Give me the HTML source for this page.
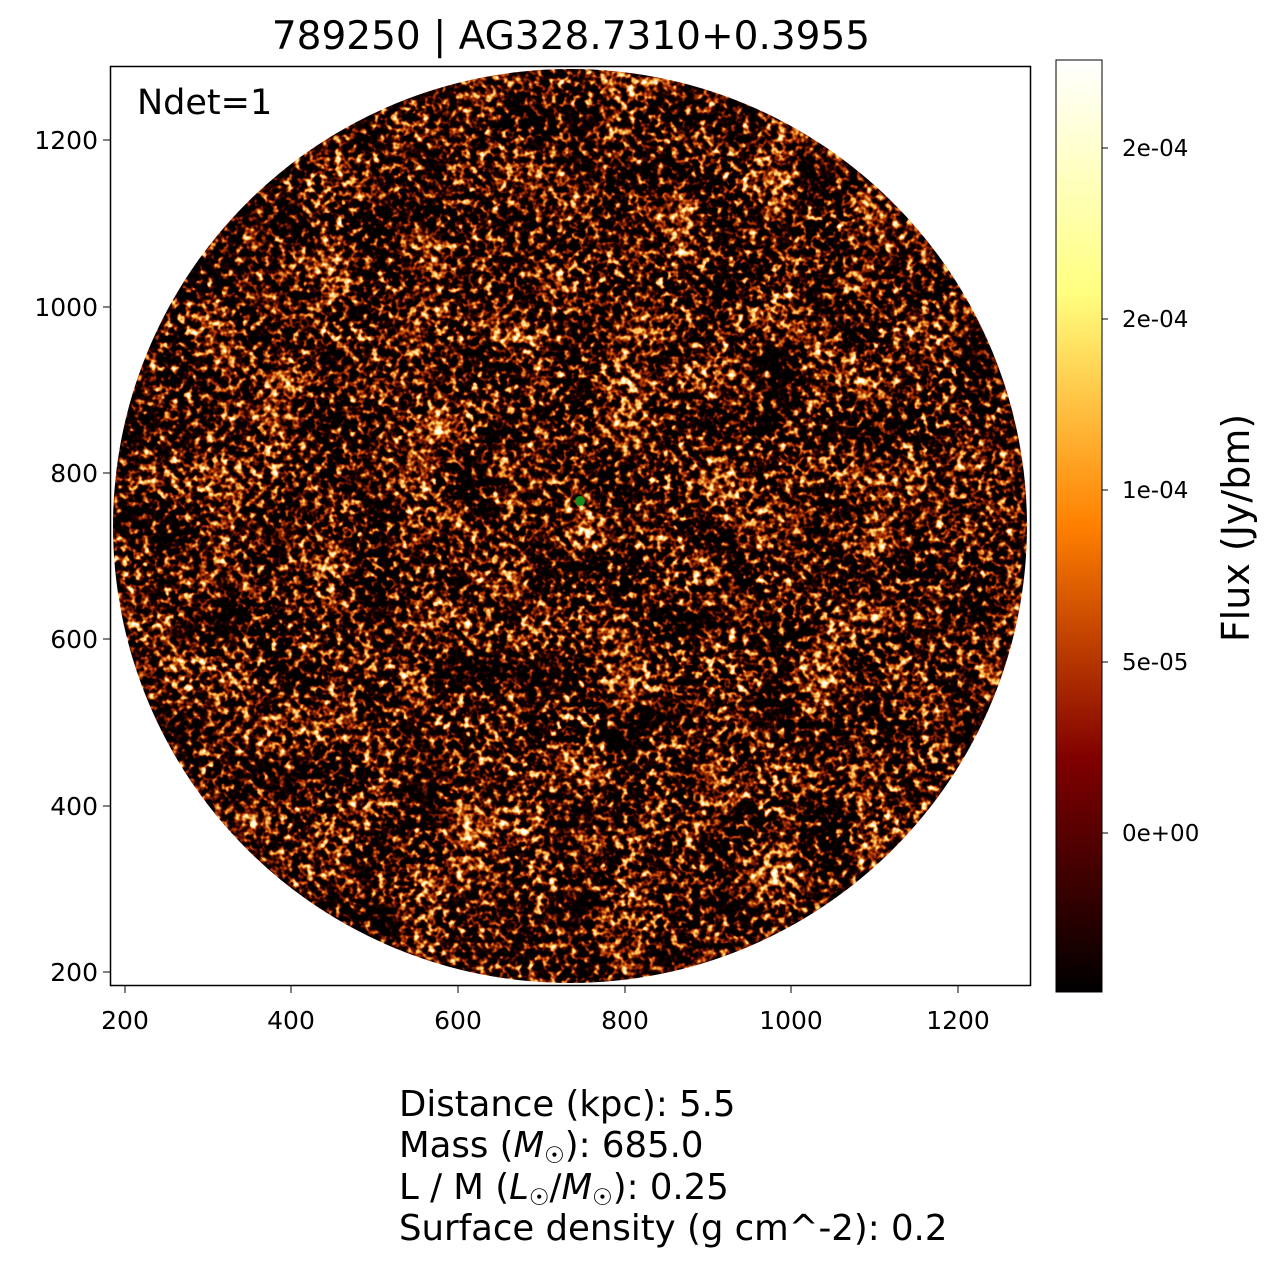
<!DOCTYPE html>
<html><head><meta charset="utf-8"><style>
body{margin:0;background:#fff;}
svg text{font-family:"DejaVu Sans","Liberation Sans",sans-serif;fill:#000;}
</style></head><body>
<svg width="1274" height="1267" viewBox="0 0 1274 1267" xmlns="http://www.w3.org/2000/svg">
<defs>
<filter id="noise" x="0" y="0" width="100%" height="100%" filterUnits="userSpaceOnUse" color-interpolation-filters="sRGB">
<feTurbulence type="fractalNoise" baseFrequency="0.14" numOctaves="2" seed="7" result="f"/>
<feTurbulence type="fractalNoise" baseFrequency="0.02" numOctaves="2" seed="3" result="c"/>
<feComposite in="f" in2="c" operator="arithmetic" k1="0" k2="0.95" k3="0.35" k4="-0.10"/>
<feColorMatrix type="matrix" values="1 0 0 0 0 1 0 0 0 0 1 0 0 0 0 0 0 0 0 1"/>
<feComponentTransfer>
<feFuncR type="table" tableValues="0 0 0 0 0.15 0.7 1 1 1 1 1"/>
<feFuncG type="table" tableValues="0 0 0 0 0 0.2 0.75 1 1 1 1"/>
<feFuncB type="table" tableValues="0 0 0 0 0 0 0.3 0.9 1 1 1"/>
<feFuncA type="table" tableValues="1 1"/>
</feComponentTransfer>
</filter>
<clipPath id="circ"><circle cx="570" cy="526" r="457"/></clipPath>
<linearGradient id="cb" x1="0" y1="1" x2="0" y2="0">
<stop offset="0" stop-color="#000"/>
<stop offset="0.25" stop-color="#800000"/>
<stop offset="0.5" stop-color="#ff8000"/>
<stop offset="0.75" stop-color="#ffff80"/>
<stop offset="1" stop-color="#fff"/>
</linearGradient>
</defs>
<text x="571" y="49" font-size="39" text-anchor="middle">789250 | AG328.7310+0.3955</text>
<g clip-path="url(#circ)"><rect x="110" y="66" width="921" height="920" filter="url(#noise)"/></g>
<rect x="110.5" y="66.5" width="920" height="919" fill="none" stroke="#000" stroke-width="1.5"/>
<circle cx="580" cy="501" r="5" fill="#1a8a1a"/>
<text x="137" y="114" font-size="35">Ndet=1</text>
<g font-size="25" text-anchor="middle">
<line x1="125" y1="986" x2="125" y2="993" stroke="#000"/><text x="125" y="1029">200</text>
<line x1="291" y1="986" x2="291" y2="993" stroke="#000"/><text x="291" y="1029">400</text>
<line x1="458" y1="986" x2="458" y2="993" stroke="#000"/><text x="458" y="1029">600</text>
<line x1="625" y1="986" x2="625" y2="993" stroke="#000"/><text x="625" y="1029">800</text>
<line x1="791" y1="986" x2="791" y2="993" stroke="#000"/><text x="791" y="1029">1000</text>
<line x1="958" y1="986" x2="958" y2="993" stroke="#000"/><text x="958" y="1029">1200</text>
</g>
<g font-size="25" text-anchor="end">
<line x1="103" y1="140" x2="110" y2="140" stroke="#000"/><text x="98" y="149">1200</text>
<line x1="103" y1="307" x2="110" y2="307" stroke="#000"/><text x="98" y="316">1000</text>
<line x1="103" y1="473" x2="110" y2="473" stroke="#000"/><text x="98" y="482">800</text>
<line x1="103" y1="639" x2="110" y2="639" stroke="#000"/><text x="98" y="648">600</text>
<line x1="103" y1="806" x2="110" y2="806" stroke="#000"/><text x="98" y="815">400</text>
<line x1="103" y1="972" x2="110" y2="972" stroke="#000"/><text x="98" y="981">200</text>
</g>
<rect x="1056" y="60" width="46" height="932" fill="url(#cb)" stroke="#000" stroke-width="1"/>
<g font-size="23">
<line x1="1102" y1="148" x2="1108" y2="148" stroke="#000"/><text x="1122" y="156">2e-04</text>
<line x1="1102" y1="319" x2="1108" y2="319" stroke="#000"/><text x="1122" y="327">2e-04</text>
<line x1="1102" y1="490" x2="1108" y2="490" stroke="#000"/><text x="1122" y="498">1e-04</text>
<line x1="1102" y1="662" x2="1108" y2="662" stroke="#000"/><text x="1122" y="670">5e-05</text>
<line x1="1102" y1="833" x2="1108" y2="833" stroke="#000"/><text x="1122" y="841">0e+00</text>
</g>
<text transform="translate(1249,528) rotate(-90)" font-size="38" text-anchor="middle">Flux (Jy/bm)</text>
<g font-size="35.5">
<text x="399" y="1116">Distance (kpc): 5.5</text>
<text x="399" y="1157">Mass (<tspan font-style="italic">M</tspan><tspan font-size="23" dy="6">☉</tspan><tspan dy="-6">): 685.0</tspan></text>
<text x="399" y="1199">L / M (<tspan font-style="italic">L</tspan><tspan font-size="23" dy="6">☉</tspan><tspan dy="-6">/</tspan><tspan font-style="italic">M</tspan><tspan font-size="23" dy="6">☉</tspan><tspan dy="-6">): 0.25</tspan></text>
<text x="399" y="1240">Surface density (g cm^-2): 0.2</text>
</g>
</svg>
</body></html>
